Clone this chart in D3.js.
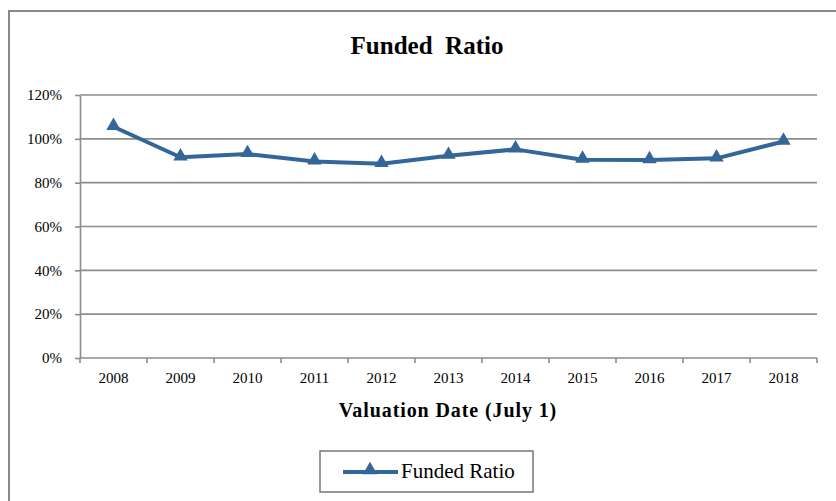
<!DOCTYPE html>
<html>
<head>
<meta charset="utf-8">
<script src="https://cdn.jsdelivr.net/npm/d3@7"></script>
<style>
  body { margin: 0; background: #fff; }
</style>
</head>
<body>
<script>
// data
const years = ["2008", "2009", "2010", "2011", "2012", "2013", "2014", "2015", "2016", "2017", "2018"]
const fundedRatio = [105.5, 91.6, 93.1, 89.7, 88.6, 92.3, 95.2, 90.5, 90.3, 91.1, 98.8]
const yTicks = [0, 20, 40, 60, 80, 100, 120]

const width = 836, height = 501
const margin = ({ top: 95, right: 19, bottom: 143, left: 80 })
const color = "#336699"
const gridColor = "#8c8c8c"
const serif = "'Liberation Serif', 'Times New Roman', serif"

const svg = d3.select("body").append("svg")
    .attr("width", width)
    .attr("height", height)
    .style("font-family", serif)

// chart frame
svg.append("rect")
    .attr("x", 9).attr("y", 11)
    .attr("width", 840).attr("height", 520)
    .attr("fill", "none")
    .attr("stroke", "#888")
    .attr("stroke-width", 2)

const x = d3.scaleBand()
    .domain(years)
    .range([margin.left, width - margin.right])

const y = d3.scaleLinear()
    .domain([0, 120])
    .range([height - margin.bottom, margin.top])

// gridlines
svg.append("g")
  .selectAll("line")
  .data(yTicks.filter(d => d > 0))
  .join("line")
    .attr("x1", margin.left)
    .attr("x2", width - margin.right)
    .attr("y1", d => y(d))
    .attr("y2", d => y(d))
    .attr("stroke", gridColor)
    .attr("stroke-width", 1.6)

// y axis
const yAxis = svg.append("g")
    .attr("transform", `translate(${margin.left},0)`)
    .call(d3.axisLeft(y).tickValues(yTicks).tickFormat(d => d + "%").tickSize(5).tickSizeOuter(0))
    .attr("font-family", serif)
    .attr("font-size", 15)
yAxis.selectAll("path, line").attr("stroke", gridColor).attr("stroke-width", 1.6)
yAxis.selectAll("text")
    .attr("fill", "#000")
    .attr("x", -18)

// x axis, ticks between the categories
const xAxis = svg.append("g")
    .attr("transform", `translate(0,${y(0)})`)
xAxis.append("line")
    .attr("x1", margin.left).attr("x2", width - margin.right)
    .attr("stroke", gridColor).attr("stroke-width", 1.6)
xAxis.selectAll(".tk")
  .data(years.concat(["end"]))
  .join("line")
    .attr("class", "tk")
    .attr("x1", (d, i) => i < years.length ? x(d) : x.range()[1])
    .attr("x2", (d, i) => i < years.length ? x(d) : x.range()[1])
    .attr("y2", 5)
    .attr("stroke", gridColor).attr("stroke-width", 1.6)
xAxis.selectAll(".lbl")
  .data(years)
  .join("text")
    .attr("class", "lbl")
    .attr("x", d => x(d) + x.bandwidth() / 2)
    .attr("y", 25)
    .attr("text-anchor", "middle")
    .attr("font-size", 15)
    .text(d => d)

// line
const pts = years.map((d, i) => [x(d) + x.bandwidth() / 2, y(fundedRatio[i])])
svg.append("path")
    .datum(pts)
    .attr("fill", "none")
    .attr("stroke", color)
    .attr("stroke-width", 4)
    .attr("stroke-linejoin", "round")
    .attr("d", d3.line())

const tri = d3.symbol().type(d3.symbolTriangle).size(90)
svg.append("g")
  .selectAll("path")
  .data(pts)
  .join("path")
    .attr("transform", d => `translate(${d[0]},${d[1] - 1})`)
    .attr("d", tri)
    .attr("fill", color)

// titles
svg.append("text")
    .attr("x", 427).attr("y", 54)
    .attr("text-anchor", "middle")
    .attr("font-size", 25)
    .attr("font-weight", "bold")
    .style("white-space", "pre")
    .text("Funded  Ratio")

svg.append("text")
    .attr("x", 448).attr("y", 417)
    .attr("text-anchor", "middle")
    .attr("font-size", 20)
    .attr("font-weight", "bold")
    .attr("letter-spacing", 0.9)
    .text("Valuation Date (July 1)")

// legend
const lg = svg.append("g")
lg.append("rect")
    .attr("x", 320).attr("y", 451)
    .attr("width", 213).attr("height", 41)
    .attr("fill", "#fff")
    .attr("stroke", "#777")
    .attr("stroke-width", 1.5)
lg.append("line")
    .attr("x1", 343).attr("x2", 398)
    .attr("y1", 472).attr("y2", 472)
    .attr("stroke", color).attr("stroke-width", 4)
lg.append("path")
    .attr("transform", "translate(370,470)")
    .attr("d", tri)
    .attr("fill", color)
lg.append("text")
    .attr("x", 401).attr("y", 478)
    .attr("font-size", 21)
    .text("Funded Ratio")
</script>
</body>
</html>
